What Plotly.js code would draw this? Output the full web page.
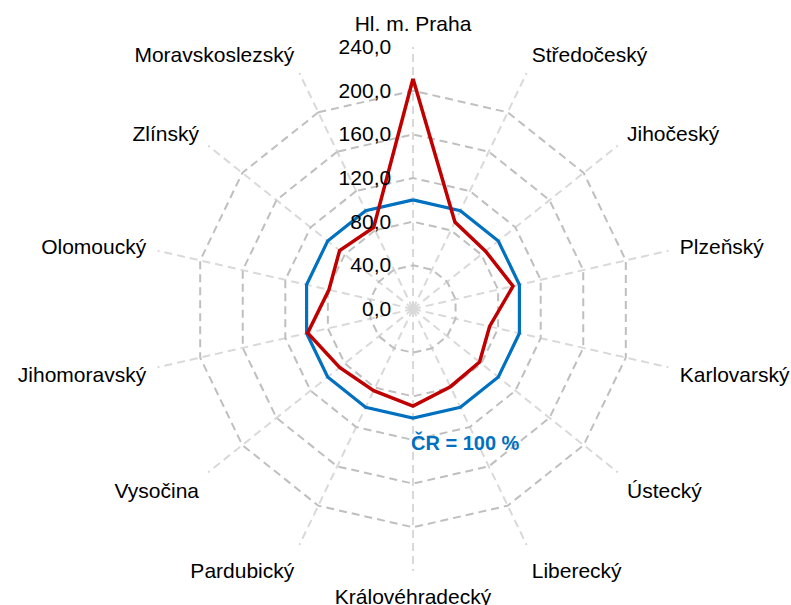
<!DOCTYPE html>
<html>
<head>
<meta charset="utf-8">
<script src="https://cdn.plot.ly/plotly-3.0.1.min.js"></script>
<style>html,body{margin:0;padding:0;background:#fff;}#chart{width:791px;height:605px;}</style>
</head>
<body>
<div id="chart"></div>
<script>
const regions = ["Hl. m. Praha","Středočeský","Jihočeský","Plzeňský","Karlovarský","Ústecký","Liberecký","Královéhradecký","Pardubický","Vysočina","Jihomoravský","Olomoucký","Zlínský","Moravskoslezský"];
const crValues = [100,100,100,100,100,100,100,100,100,100,100,100,100,100];
const regionValues = [211,88.5,85,94,72,78,79,89,83,86,99,79,86,83];
const radialTicks = [0,40,80,120,160,200,240];

function closed(a){ return a.concat([a[0]]); }

const font = "Liberation Sans, Arial, sans-serif";
const data = [
  {type:'scatterpolar', mode:'lines', r:closed(crValues), theta:closed(regions),
   line:{color:'#0070c0', width:3.2}, hoverinfo:'skip', name:'ČR'},
  {type:'scatterpolar', mode:'lines', r:closed(regionValues), theta:closed(regions),
   line:{color:'#c00000', width:3.5}, hoverinfo:'skip', name:'kraj'}
];
const layout = {
  width:791, height:605,
  margin:{l:151, r:116, t:47, b:34},
  paper_bgcolor:'#fff', plot_bgcolor:'#fff',
  showlegend:false,
  separators:', ',
  font:{family:font, size:21, color:'#000'},
  polar:{
    domain:{x:[0,1], y:[0,1]},
    gridshape:'linear',
    bgcolor:'rgba(0,0,0,0)',
    radialaxis:{
      range:[0,240.05], tickvals:radialTicks, tickformat:'.1f',
      angle:90, side:'counterclockwise', tickangle:90,
      showline:false, ticks:'outside', ticklen:14, tickcolor:'rgba(0,0,0,0)',
      gridcolor:'#bfbfbf', gridwidth:2, griddash:'8px,5px',
      tickfont:{family:font, size:21, color:'#000'}
    },
    angularaxis:{
      type:'category', categoryarray:regions, direction:'clockwise', rotation:90,
      showline:false, ticks:'outside', ticklen:7, tickcolor:'rgba(0,0,0,0)',
      gridcolor:'#d9d9d9', gridwidth:2, griddash:'8px,5px',
      tickfont:{family:font, size:21, color:'#000'}
    }
  },
  annotations:[{
    xref:'paper', yref:'paper', x:0.601, y:0.246, xanchor:'center', yanchor:'middle', showarrow:false,
    text:'<b>ČR = 100 %</b>', font:{family:font, size:20, color:'#0070c0'}
  }]
};
Plotly.newPlot('chart', data, layout, {displayModeBar:false, staticPlot:true});
</script>
</body>
</html>
